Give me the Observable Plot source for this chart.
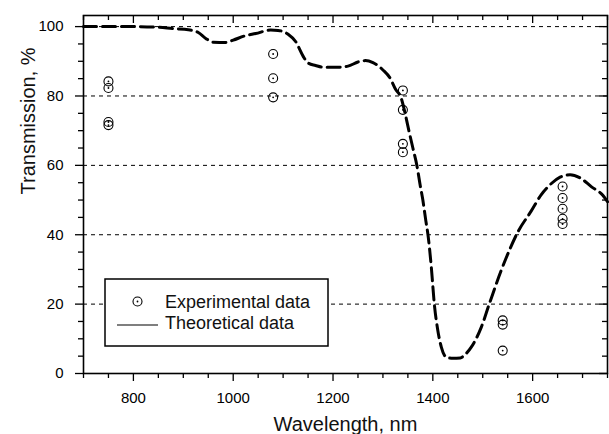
<!DOCTYPE html>
<html><head><meta charset="utf-8">
<script src="https://cdn.jsdelivr.net/npm/d3@7"></script>
<script src="https://cdn.jsdelivr.net/npm/@observablehq/plot@0.6"></script>
<style>
body{margin:0;background:#fff;font-family:"Liberation Sans",Arial,sans-serif;}
#wrap{position:relative;width:609px;height:434px;}
#legend{position:absolute;left:0;top:0;}
</style></head><body><div id="wrap"></div>
<script>
// Theoretical curve (wavelength nm, transmission %)
const theoryWavelength = [700,750,800,850,880,910,930,945,960,985,1000,1025,1045,1075,1090,1110,1125,1140,1150,1165,1180,1210,1230,1250,1265,1280,1300,1315,1325,1336,1346,1352,1360,1368,1375,1380,1386,1390,1397,1403,1410,1417,1428,1440,1455,1465,1477,1497,1513,1537,1553,1570,1597,1617,1637,1655,1675,1695,1718,1741,1750];
const theoryTransmission = [100,100,100,99.8,99.4,99.1,98.3,96.6,95.5,95.4,96.1,97.4,98,99,98.9,97.8,95.7,91.5,89.5,88.8,88.3,88.3,88.6,89.8,90.2,89.6,87.5,85,82,79.6,74,70,65,60,54,50,44,40.3,30.6,20,12.4,7.6,4.6,4.4,4.5,5.5,7.6,13.3,20,29.7,35.4,40.7,46.8,51.5,54.7,56.6,57.3,56.4,53.8,51.3,49.5];
// Experimental points
const expWavelength = [750,750,750,750,1080,1080,1080,1340,1340,1340,1340,1540,1540,1540,1660,1660,1660,1660,1660];
const expTransmission = [84.2,82.3,72.5,71.6,92.1,85.1,79.6,81.6,76,66.2,63.8,15.3,14.1,6.6,53.9,50.6,47.5,44.6,43.1];
// Axis ticks
const xMajorTicks = [800,1000,1200,1400,1600];
const yMajorTicks = [0,20,40,60,80,100];
const gridLevels = [20,40,60,80,100];
const xTitle = "Wavelength, nm";
const yTitle = "Transmission, %";
const legendLabels = ["Experimental data","Theoretical data"];

const xMinorTicks = d3.range(700,1751,50).filter(v => !xMajorTicks.includes(v));
const yMinorTicks = d3.range(0,101,5).filter(v => !yMajorTicks.includes(v));

const theory = theoryWavelength.map((w,i) => ({w, t: theoryTransmission[i]}));
const exp = expWavelength.map((w,i) => ({w, t: expTransmission[i]}));

const W = 609, H = 434, mL = 83, mR = 2, mT = 15, mB = 61;
const frameH = H - mT - mB, frameW = W - mL - mR;
const font = "Liberation Sans, Arial, sans-serif";
const plain = d => String(d);

const chart = Plot.plot({
  width: W, height: H, marginLeft: mL, marginRight: mR, marginTop: mT, marginBottom: mB,
  style: {fontFamily: font, background: "#fff", color: "#000", overflow: "visible"},
  x: {domain: [700, 1750]},
  y: {domain: [0, 103.2]},
  marks: [
    Plot.ruleY(gridLevels, {stroke: "#000", strokeWidth: 1, strokeDasharray: "4,4"}),
    Plot.line(theory, {x: "w", y: "t", curve: "monotone-x", stroke: "#000", strokeWidth: 3, strokeDasharray: "13,6"}),
    Plot.dot(exp, {x: "w", y: "t", r: 4.5, stroke: "#000", strokeWidth: 1.1, fill: "none"}),
    Plot.dot(exp, {x: "w", y: "t", r: 0.9, fill: "#000"}),
    Plot.axisX(xMinorTicks, {anchor: "bottom", tickSize: 5, tickFormat: () => "", label: null, strokeWidth: 1.3}),
    Plot.axisX(xMajorTicks, {anchor: "bottom", tickSize: 8, tickPadding: 11, fontSize: 15, tickFormat: plain, label: null, strokeWidth: 1.3}),
    Plot.axisY(yMinorTicks, {anchor: "left", tickSize: 5, tickFormat: () => "", label: null, strokeWidth: 1.3}),
    Plot.axisY(yMajorTicks, {anchor: "left", tickSize: 8, tickPadding: 12, fontSize: 15, tickFormat: plain, label: null, strokeWidth: 1.3}),
    Plot.ruleX(xMinorTicks, {insetBottom: frameH - 5, strokeWidth: 1.3}),
    Plot.ruleX(xMajorTicks, {insetBottom: frameH - 8, strokeWidth: 1.3}),
    Plot.ruleY(yMinorTicks, {insetLeft: frameW - 5, strokeWidth: 1.3}),
    Plot.ruleY(yMajorTicks, {insetLeft: frameW - 8, strokeWidth: 1.3}),
    Plot.frame({stroke: "#000", strokeWidth: 1.6}),
    Plot.text([xTitle], {text: d => d, frameAnchor: "bottom", lineAnchor: "bottom", dy: 57, fontSize: 20, fill: "#111"}),
    Plot.text([yTitle], {text: d => d, frameAnchor: "left", dx: -55, rotate: -90, fontSize: 20, fill: "#111"})
  ]
});
const wrap = document.getElementById("wrap");
wrap.appendChild(chart);

// Legend overlay
const leg = d3.select(wrap).append("svg").attr("id", "legend").attr("width", W).attr("height", H)
  .style("position", "absolute").style("left", "0").style("top", "0").style("pointer-events", "none");
leg.append("rect").attr("x", 105).attr("y", 279).attr("width", 223).attr("height", 67)
  .attr("fill", "#fff").attr("stroke", "#000").attr("stroke-width", 1.5);
leg.append("circle").attr("cx", 137.5).attr("cy", 301.5).attr("r", 4.5).attr("fill", "none").attr("stroke", "#000").attr("stroke-width", 1.1);
leg.append("circle").attr("cx", 137.5).attr("cy", 301.5).attr("r", 0.9).attr("fill", "#000");
leg.append("line").attr("x1", 117).attr("x2", 158).attr("y1", 325).attr("y2", 325).attr("stroke", "#000").attr("stroke-width", 1.2);
leg.append("text").attr("x", 165).attr("y", 307.5).attr("font-family", font).attr("font-size", 18).attr("fill", "#111").text(legendLabels[0]);
leg.append("text").attr("x", 165).attr("y", 328.5).attr("font-family", font).attr("font-size", 18).attr("fill", "#111").text(legendLabels[1]);
</script>
</body></html>
